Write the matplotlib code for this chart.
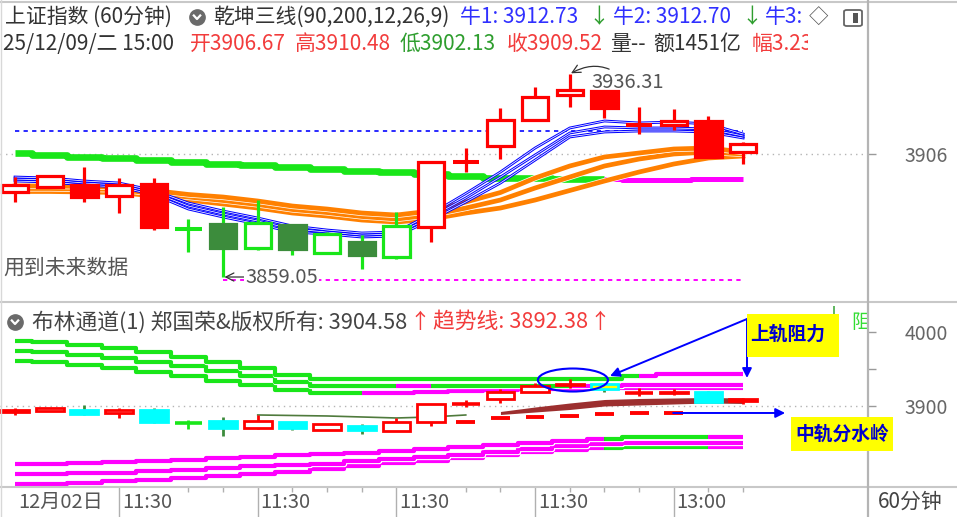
import numpy as np
import matplotlib.pyplot as plt
import matplotlib.patheffects as pe
from matplotlib.patches import Rectangle, Ellipse, FancyBboxPatch
from matplotlib.lines import Line2D

plt.rcParams['font.family'] = ['Noto Sans CJK SC', 'DejaVu Sans']

# ---- 60 min candles ----
opens = [3891.39, 3893.30, 3894.06, 3889.87, 3894.44, 3877.40, 3879.21, 3870.07, 3878.83, 3868.17, 3872.36,
         3866.65, 3878.07, 3902.60, 3908.90, 3918.80, 3928.32, 3929.84, 3916.70, 3916.90, 3918.42, 3906.67]
highs = [3897.10, 3897.90, 3900.91, 3896.72, 3896.72, 3881.11, 3885.68, 3888.35, 3878.83, 3876.17, 3875.02,
         3883.78, 3902.81, 3908.14, 3923.37, 3931.36, 3936.31, 3929.84, 3923.75, 3922.99, 3920.32, 3910.48]
lows = [3887.59, 3892.90, 3887.59, 3883.40, 3876.93, 3868.55, 3859.05, 3869.31, 3867.41, 3868.17, 3862.08,
        3865.89, 3872.36, 3899.01, 3903.95, 3918.80, 3923.75, 3919.56, 3913.47, 3914.99, 3904.72, 3902.13]
closes = [3894.06, 3897.48, 3889.49, 3894.06, 3878.07, 3877.10, 3870.07, 3879.59, 3869.69, 3875.40, 3867.41,
          3878.45, 3902.81, 3902.90, 3918.80, 3927.55, 3930.22, 3923.37, 3917.10, 3918.42, 3904.72, 3909.52]
# candle look in the upper panel: h red hollow, f red filled, x red cross, gx green cross,
# d dark green filled, g green hollow
upper_kind = ['h', 'h', 'f', 'h', 'f', 'gx', 'd', 'g', 'd', 'g', 'd', 'g', 'h', 'x', 'h', 'h', 'h', 'f', 'x', 'h', 'f', 'h']

# 乾坤三线 lines
trend_band = [3906.05, 3905.48, 3904.72, 3904.33, 3903.57, 3902.81, 3902.05, 3901.67, 3900.91, 3900.15, 3899.39,
              3898.82, 3898.25, 3897.48, 3896.72, 3896.72, 3896.53, 3896.34, 3896.15, 3896.15, 3896.34, 3896.34]
blue1 = [3897.10, 3896.72, 3895.58, 3894.82, 3891.97, 3887.21, 3884.16, 3881.50, 3878.45, 3876.93, 3875.79,
         3876.17, 3883.02, 3890.83, 3899.01, 3908.14, 3915.76, 3918.42, 3917.66, 3918.04, 3917.28, 3913.47]
blue2 = [3896.34, 3895.96, 3894.82, 3894.06, 3891.21, 3886.06, 3883.02, 3880.35, 3877.31, 3876.17, 3875.02,
         3875.40, 3881.88, 3889.11, 3897.10, 3905.48, 3913.85, 3916.14, 3915.76, 3915.76, 3915.38, 3912.71]
blue3 = [3895.58, 3895.20, 3894.06, 3893.30, 3890.45, 3884.92, 3881.88, 3879.21, 3876.17, 3875.40, 3874.26,
         3874.64, 3880.73, 3887.59, 3894.82, 3903.57, 3912.33, 3914.23, 3914.61, 3914.61, 3914.23, 3911.95]
orange1 = [3893.68, 3893.68, 3893.49, 3893.30, 3891.97, 3890.45, 3889.49, 3887.97, 3886.06, 3884.92, 3883.40,
           3882.64, 3884.16, 3887.59, 3891.21, 3896.72, 3901.29, 3904.72, 3906.24, 3907.76, 3908.14, 3906.62]
orange2 = [3892.73, 3892.73, 3892.54, 3892.35, 3890.83, 3889.49, 3888.16, 3886.64, 3884.73, 3883.59, 3882.07,
           3881.11, 3882.64, 3885.30, 3888.35, 3892.92, 3897.10, 3901.29, 3903.95, 3905.86, 3906.62, 3905.86]
orange3 = [3891.59, 3891.59, 3891.40, 3891.21, 3889.87, 3888.35, 3886.83, 3885.30, 3883.40, 3882.26, 3880.73,
           3879.97, 3881.11, 3883.40, 3885.30, 3888.35, 3891.97, 3895.58, 3899.01, 3902.05, 3904.33, 3905.10]
bull_level = 3914.61
low_level = 3857.89

# 布林通道 panel
upper_b1 = [3988.25, 3986.49, 3982.44, 3977.71, 3972.98, 3966.22, 3959.46, 3951.35, 3941.89, 3935.81, 3935.81,
            3935.81, 3935.81, 3935.81, 3935.81, 3935.81, 3935.81, 3935.81, 3940.54, 3943.24, 3943.24, 3943.24]
upper_b2 = [3974.73, 3972.98, 3968.92, 3964.87, 3959.46, 3954.06, 3947.30, 3940.54, 3932.43, 3927.03, 3927.03,
            3927.03, 3927.03, 3927.03, 3927.03, 3927.03, 3927.03, 3927.03, 3928.38, 3928.38, 3928.38, 3928.38]
upper_b3 = [3961.22, 3959.46, 3955.41, 3951.35, 3945.95, 3940.54, 3933.78, 3928.38, 3921.62, 3917.97, 3917.97,
            3917.97, 3918.92, 3920.27, 3921.62, 3922.30, 3922.97, 3923.65, 3924.32, 3924.32, 3924.32, 3924.32]
lower_b1 = [3821.62, 3821.62, 3822.97, 3824.32, 3825.67, 3827.02, 3829.73, 3831.08, 3833.11, 3835.13, 3836.49,
            3839.19, 3841.89, 3844.59, 3847.30, 3850.00, 3852.70, 3855.40, 3858.11, 3858.11, 3858.11, 3858.11]
lower_b2 = [3808.10, 3808.10, 3808.78, 3809.46, 3811.48, 3813.51, 3816.21, 3818.92, 3820.27, 3821.62, 3825.67,
            3828.38, 3831.08, 3833.78, 3837.84, 3841.89, 3845.94, 3848.65, 3850.00, 3850.00, 3850.00, 3850.00]
lower_b3 = [3794.59, 3794.59, 3795.94, 3798.64, 3800.00, 3802.70, 3805.40, 3808.10, 3810.81, 3814.86, 3818.92,
            3822.97, 3825.67, 3829.73, 3833.78, 3837.84, 3840.54, 3843.24, 3844.59, 3844.59, 3844.59, 3844.59]
mid_thin = [3887.84, 3887.16, 3886.49, 3885.14, 3883.78, 3885.14, 3887.84]          # candles 7..13
mid_top = [3892.57, 3898.65, 3904.05, 3908.78, 3910.14, 3910.81, 3911.49, 3910.81]  # candles 14..21
mid_bot = [3888.51, 3891.89, 3895.27, 3900.00, 3901.35, 3902.70, 3904.05, 3903.38]
trend_dash = [3878.78, 3883.78, 3885.14, 3886.49, 3889.19, 3890.54, 3890.95]       # candles 13..19

tick_pos = [0, 3, 7, 11, 15, 19]
tick_text = ['12月02日', '11:30', '11:30', '11:30', '11:30', '13:00']

idx = np.arange(len(opens))
W, H = 957, 517
RED = '#ff0000'
GREEN = '#19e619'
DKGREEN = '#3c8c3c'
BLUE = '#0000ff'
MAG = '#ff00ff'
ORANGE = '#ff8000'
CYAN = '#00ffff'


def candle(ax, i, o, h, l, c, edge, face, wick, lw, w):
    lo, hi = min(o, c), max(o, c)
    ax.vlines(i, l, h, colors=wick, lw=lw, zorder=4)
    if hi - lo < 1.0:
        ax.hlines((o + c) / 2, i - w / 2, i + w / 2, colors=edge, lw=lw + 0.6, zorder=5)
    else:
        ax.add_patch(Rectangle((i - w / 2, lo), w, hi - lo, facecolor=face, edgecolor=edge, lw=lw, zorder=5))


fig = plt.figure(figsize=(9.57, 5.17), dpi=100)
fig.patch.set_facecolor('white')

ax1 = fig.add_axes([0, 1 - 300 / H, 868 / W, 298 / H])
ax2 = fig.add_axes([0, 1 - 487 / H, 868 / W, 184 / H])
ax3 = fig.add_axes([0, 0, 868 / W, 30 / H])
for ax in (ax1, ax2, ax3):
    ax.set_xlim(-0.433, 24.6)
    for s in ax.spines.values():
        s.set_visible(False)
    ax.set_xticks([])
ax1.set_ylim(3850.3, 3963.7)
ax2.set_ylim(3790.5, 4039.2)
ax3.set_ylim(0, 1)
ax3.set_yticks([])

# ---------------- upper panel ----------------
ax1.axhline(3906, color='#b4b4b4', ls=(0, (1, 3)), lw=1, zorder=1)
ax1.hlines(bull_level, 0, 21, colors='#2a2aff', linestyles=(0, (2.2, 2.2)), lw=1.4, zorder=2)
ax1.hlines(low_level, 6, 21, colors=MAG, linestyles=(0, (2.2, 2.2)), lw=1.4, zorder=2)

ax1.plot(idx[:18], trend_band[:18], color=GREEN, lw=4.8, drawstyle='steps-mid', zorder=2, solid_capstyle='butt')
ax1.plot(idx[17:], trend_band[17:], color=MAG, lw=3.6, drawstyle='steps-mid', zorder=2, solid_capstyle='butt')

for ser in (orange3, orange2, orange1):
    ax1.plot(idx, ser, color=ORANGE, lw=3.4, zorder=3,
             path_effects=[pe.Stroke(linewidth=4.4, foreground='white'), pe.Normal()])
for ser in (blue3, blue2, blue1):
    ax1.plot(idx, ser, color=BLUE, lw=2.0, zorder=3)
    ax1.plot(idx, ser, color='white', lw=0.55, zorder=3)

for i in idx:
    k = upper_kind[i]
    if k == 'h':
        args = (RED, 'white', RED)
    elif k in ('f', 'x'):
        args = (RED, RED, RED)
    elif k == 'gx':
        args = (GREEN, GREEN, GREEN)
    elif k == 'd':
        args = (DKGREEN, DKGREEN, GREEN)
    else:
        args = (GREEN, 'white', GREEN)
    candle(ax1, i, opens[i], highs[i], lows[i], closes[i], *args, lw=2.3, w=0.76)

ax1.annotate('3859.05', xy=(6, lows[6]), xytext=(22, 0), textcoords='offset pixels',
             ha='left', va='center', fontsize=14.5, color='#555555',
             bbox=dict(boxstyle='square,pad=0.05', fc='white', ec='none'),
             arrowprops=dict(arrowstyle='->', color='#333333', lw=0.9, shrinkA=0, shrinkB=1), zorder=6)
ax1.annotate('3936.31', xy=(16, highs[16]), xytext=(22, -9), textcoords='offset pixels',
             ha='left', va='center', fontsize=14.5, color='#555555',
             arrowprops=dict(arrowstyle='->', color='#333333', lw=0.9, shrinkA=1, shrinkB=1,
                             connectionstyle='arc3,rad=0.4'), zorder=6)
ax1.text(3 / 868, 1 - 266 / 298, '用到未来数据', transform=ax1.transAxes, fontsize=15,
         color='#555555', ha='left', va='center')

ax1.yaxis.tick_right()
ax1.set_yticks([3906])
ax1.tick_params(axis='y', length=5.8, width=1, color='#9a9a9a', labelsize=14, labelcolor='#666666', pad=51.8)
for t in ax1.get_yticklabels():
    t.set_ha('right')

# ---------------- lower panel ----------------
ax2.axhline(3900, color='#b4b4b4', ls=(0, (1, 3)), lw=1, zorder=1)


def band(ax, ser, segs):
    for a, b, col in segs:
        ax.plot(idx[a:b + 1], ser[a:b + 1], color=col, lw=3.0, drawstyle='steps-mid', zorder=2,
                solid_capstyle='butt', path_effects=[pe.Stroke(linewidth=3.8, foreground='white'), pe.Normal()])


band(ax2, upper_b3, [(0, 10, GREEN), (10, 21, MAG)])
band(ax2, upper_b2, [(0, 11, GREEN), (11, 12, MAG), (12, 16, GREEN), (16, 21, MAG)])
band(ax2, upper_b1, [(0, 18, GREEN), (18, 21, MAG)])
band(ax2, lower_b3, [(0, 17, MAG), (17, 20, GREEN), (20, 21, MAG)])
band(ax2, lower_b2, [(0, 21, MAG)])
band(ax2, lower_b1, [(0, 17, MAG), (17, 20, GREEN), (20, 21, MAG)])

ax2.plot(idx[7:14], mid_thin, color='#4f7a3c', lw=1.2, zorder=3)
ax2.fill_between(idx[14:22], mid_bot, mid_top, color='#9c2f2f', lw=0, zorder=3)
for i, v in zip(idx[13:20], trend_dash):
    ax2.hlines(v, i - 0.27, i + 0.27, colors=RED, lw=2.8, zorder=4)

for i in idx:
    o, c = opens[i], closes[i]
    if abs(c - o) < 1.0:
        col = RED if c >= o else GREEN
        args = (col, col, col)
    elif c > o:
        args = (RED, 'white', RED)
    else:
        args = (CYAN, CYAN, DKGREEN)
    if i in (16, 17):
        args = (args[0], '#ffff00', args[2])
    candle(ax2, i, o, highs[i], lows[i], c, *args, lw=2.0, w=0.8)

ax2.add_patch(Ellipse((16.09, 3935.1), 2.02, 31.1, fill=False, ec=BLUE, lw=1.5, zorder=7))
ax2.annotate('', xy=(17.16, 3940.54), xytext=(21.11, 4017.57),
             arrowprops=dict(arrowstyle='-|>', color=BLUE, lw=1.4, mutation_scale=14, shrinkA=0, shrinkB=0), zorder=7)
ax2.annotate('', xy=(21.11, 3937.84), xytext=(21.11, 4017.57),
             arrowprops=dict(arrowstyle='-|>', color=BLUE, lw=1.4, mutation_scale=14, shrinkA=0, shrinkB=0), zorder=7)
ax2.annotate('', xy=(22.21, 3890.54), xytext=(18.98, 3890.54),
             arrowprops=dict(arrowstyle='-|>', color=BLUE, lw=1.4, mutation_scale=14, shrinkA=0, shrinkB=0), zorder=7)

ax2.yaxis.tick_right()
ax2.set_yticks([3900, 4000])
ax2.set_yticks([3950], minor=True)
ax2.tick_params(axis='y', which='both', length=5.8, width=1, color='#9a9a9a', labelsize=14,
                labelcolor='#666666', pad=51.8)
for t in ax2.get_yticklabels():
    t.set_ha('right')
ax2.text(851 / W, 1 - 322 / H, '阻', transform=fig.transFigure, fontsize=14, color='#33dd33',
         ha='left', va='center', clip_on=True)
ax2.vlines(23.63, 4035.0, 4017.0, colors='#44aa44', lw=1.2)

# ---------------- time row ----------------
for p, s in zip(tick_pos, tick_text):
    if p > 0:
        ax3.axvline(p, color='#b0b0b0', lw=1)
    ax3.text(p + 0.08, 0.48, s, ha='left', va='center', fontsize=14.5, color='#555555')
minor_pos = [5, 6, 8, 9, 10, 13, 14, 16, 17, 18, 20, 21]
ax3.vlines(minor_pos, 0.82, 1, colors='#b0b0b0', lw=1)


# ---------------- figure-level text and frame ----------------
def ftxt(x, y, s, **kw):
    return fig.text(x / W, 1 - y / H, s, va='center', ha='left', **kw)


def fline(xs, ys, **kw):
    fig.add_artist(Line2D([x / W for x in xs], [1 - y / H for y in ys], transform=fig.transFigure, **kw))


def icon(x, y):
    fig.add_artist(Line2D([x / W], [1 - y / H], marker='o', markersize=11, color='#6a6a6a',
                          transform=fig.transFigure))
    fline([x - 3.2, x, x + 3.2], [y - 1.5, y + 2, y - 1.5], color='white', lw=1.6)


DARK = '#333333'
TRED = '#f23c3c'
TBLUE = '#3030ff'
TGREEN = '#2f9e2f'
fs = 15
ftxt(5, 17, '上证指数 (60分钟)', fontsize=fs, color=DARK)
icon(197, 17)
ftxt(213, 17, '乾坤三线(90,200,12,26,9)', fontsize=fs, color=DARK)
ftxt(460, 17, '牛1: 3912.73', fontsize=fs, color=TBLUE)
ftxt(588, 17, '↓', fontsize=fs, color=TGREEN)
ftxt(613, 17, '牛2: 3912.70', fontsize=fs, color=TBLUE)
ftxt(741, 17, '↓', fontsize=fs, color=TGREEN)
ftxt(765, 17, '牛3:', fontsize=fs, color=TBLUE)
ftxt(809, 17, '◇', fontsize=14, color='#555555')
fig.add_artist(FancyBboxPatch((844 / W, 1 - 26 / H), 18 / W, 16 / H, boxstyle='round,pad=0,rounding_size=0.003',
                              transform=fig.transFigure, fc='white', ec='#666666', lw=1.3))
fig.add_artist(Rectangle((853 / W, 1 - 23 / H), 5 / W, 10 / H, transform=fig.transFigure, fc='#555555', ec='none'))

ftxt(3, 44, '25/12/09/二 15:00', fontsize=fs, color=DARK)
ftxt(190, 44, '开3906.67', fontsize=fs, color=TRED)
ftxt(295, 44, '高3910.48', fontsize=fs, color=TRED)
ftxt(400, 44, '低3902.13', fontsize=fs, color=TGREEN)
ftxt(507, 44, '收3909.52', fontsize=fs, color=TRED)
ftxt(610, 44, '量--', fontsize=fs, color=DARK)
ftxt(653, 44, '额1451亿', fontsize=fs, color=DARK)
t = ftxt(752, 44, '幅3.23%', fontsize=fs, color=TRED)
t.set_clip_path(Rectangle((0, 0), 808 / W, 1, transform=fig.transFigure))

icon(15, 322)
ftxt(32, 322, '布林通道(1) 郑国荣&版权所有: 3904.58', fontsize=15.7, color='#444444')
ftxt(409, 322, '↑', fontsize=fs, color=TRED)
ftxt(433, 322, '趋势线: 3892.38', fontsize=15.7, color=TRED)
ftxt(589, 322, '↑', fontsize=fs, color=TRED)

# yellow notes
fig.add_artist(Rectangle((747 / W, 1 - 357 / H), 92 / W, 43 / H, transform=fig.transFigure,
                         fc='#ffff00', ec='none', zorder=8))
ftxt(750, 334, '上轨阻力', fontsize=13.5, color='#0000cc', fontweight='bold', zorder=9)
fig.add_artist(Rectangle((791 / W, 1 - 451 / H), 102 / W, 34 / H, transform=fig.transFigure,
                         fc='#ffff00', ec='none', zorder=8))
ftxt(795, 434, '中轨分水岭', fontsize=13.5, color='#0000cc', fontweight='bold', zorder=9)

ftxt(878, 502, '60分钟', fontsize=fs, color='#444444')

fline([0, 957], [1.5, 1.5], color='#c8c8c8', lw=1.5)
fline([0, 957], [301.5, 301.5], color='#c8c8c8', lw=1.5)
fline([0, 957], [487, 487], color='#c8c8c8', lw=1.5)
fline([868, 868], [0, 517], color='#b4b4b4', lw=1.6)
fline([0.6, 0.6], [0, 517], color='#d8d8d8', lw=1)

fig.savefig('out.png', dpi=100, facecolor='white')
